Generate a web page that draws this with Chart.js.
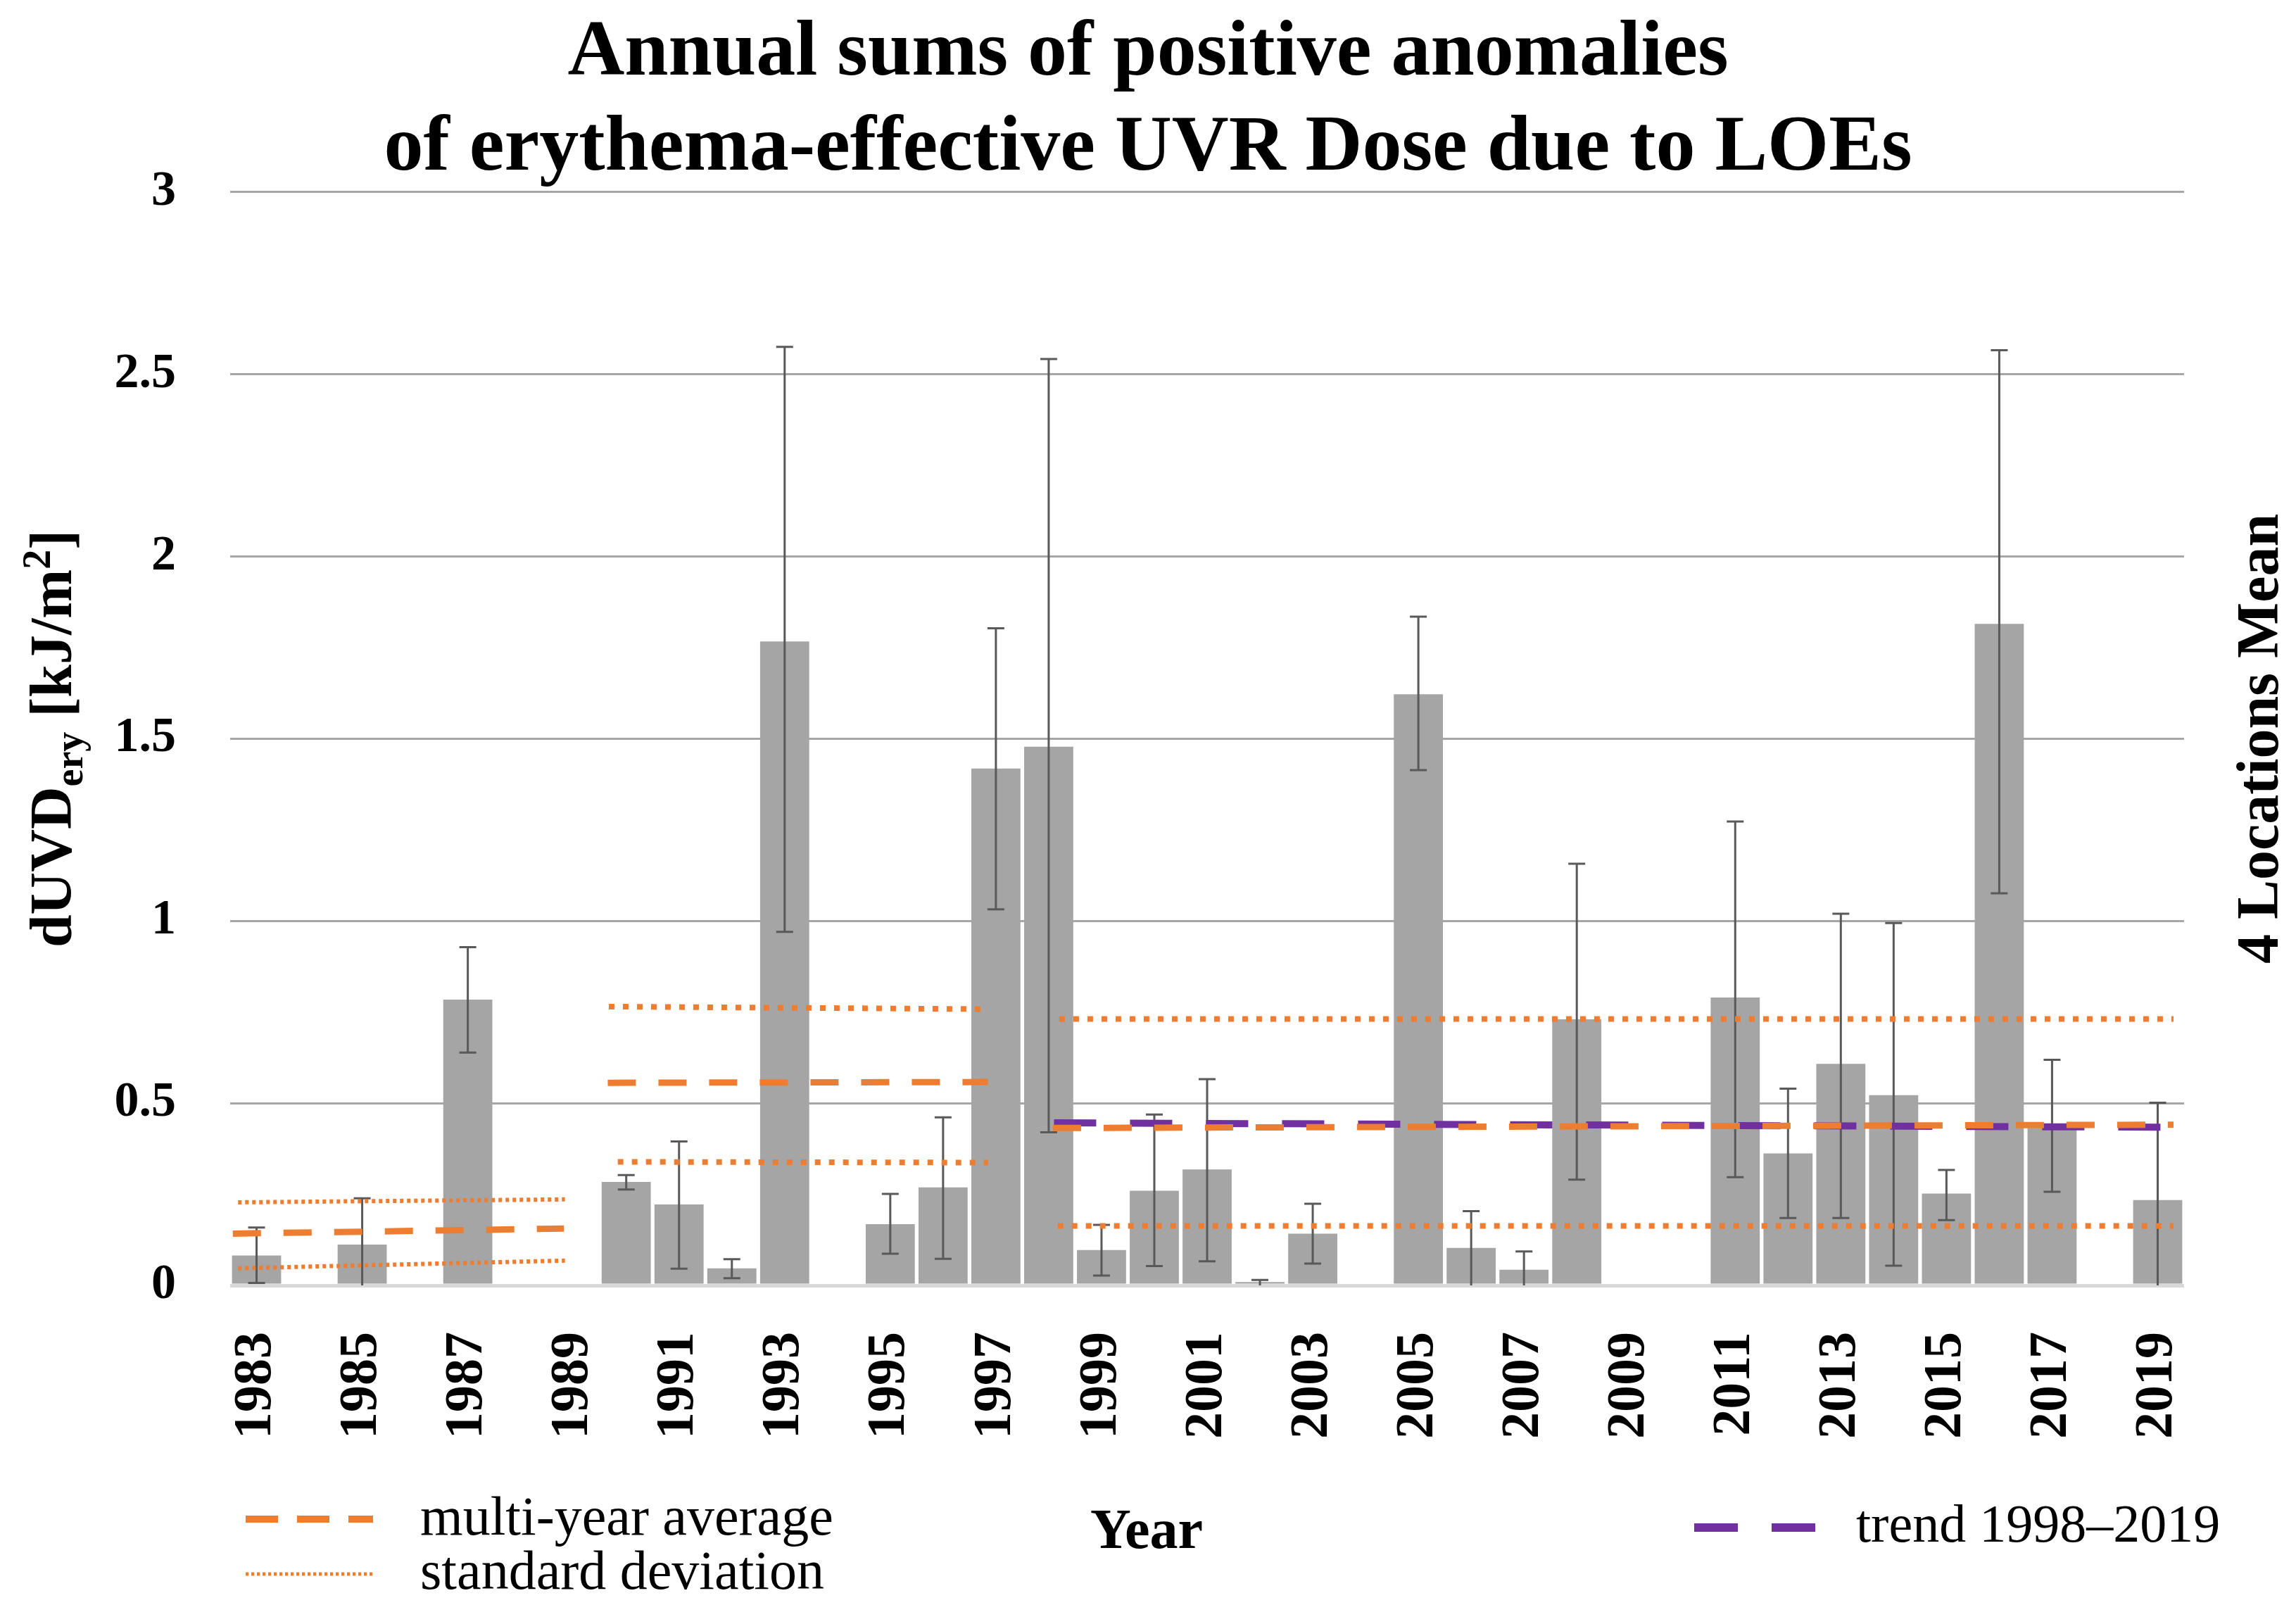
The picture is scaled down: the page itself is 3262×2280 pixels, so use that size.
<!DOCTYPE html>
<html>
<head>
<meta charset="utf-8">
<script src="https://cdn.jsdelivr.net/npm/chart.js@4.4.1/dist/chart.umd.min.js"></script>
<style>
  html, body { margin: 0; padding: 0; background: #fff; }
  #uvChart { display: block; }
</style>
</head>
<body>
<canvas id="uvChart" width="3262" height="2280"></canvas>
<script>
// years on the category axis
const years = ['1983','1984','1985','1986','1987','1988','1989','1990','1991','1992',
  '1993','1994','1995','1996','1997','1998','1999','2000','2001','2002','2003','2004',
  '2005','2006','2007','2008','2009','2010','2011','2012','2013','2014','2015','2016',
  '2017','2018','2019'];
// only every second year gets a label
const tickYears = ['1983','1985','1987','1989','1991','1993','1995','1997','1999','2001',
  '2003','2005','2007','2009','2011','2013','2015','2017','2019'];

// 4 locations mean of dUVD_ery [kJ/m2]
const doseMean = [0.082, null, 0.112, null, 0.784, null, null, 0.284, 0.222, 0.047,
  1.767, null, 0.168, 0.269, 1.418, 1.478, 0.097, 0.260, 0.318, 0.009, 0.142, null,
  1.622, 0.103, 0.043, 0.730, null, null, 0.790, 0.362, 0.608, 0.522, 0.252, 1.815,
  0.432, null, 0.234];
const errLow = [0.007, null, 0, null, 0.639, null, null, 0.263, 0.046, 0.020,
  0.970, null, 0.087, 0.073, 1.032, 0.420, 0.027, 0.053, 0.066, 0, 0.060, null,
  1.414, 0, 0, 0.290, null, null, 0.297, 0.185, 0.185, 0.054, 0.179, 1.076,
  0.257, null, 0];
const errHigh = [0.159, null, 0.239, null, 0.928, null, null, 0.303, 0.395, 0.072,
  2.575, null, 0.251, 0.461, 1.803, 2.542, 0.166, 0.469, 0.566, 0.015, 0.224, null,
  1.835, 0.204, 0.093, 1.157, null, null, 1.273, 0.540, 1.020, 0.994, 0.317, 2.566,
  0.619, null, 0.501];

// multi-year averages and +/- std deviation, per period (start / end)
const avgPeriod1 = [{x: 1982.55, y: 0.142}, {x: 1988.82, y: 0.156}];
const avgPeriod2 = [{x: 1989.65, y: 0.556}, {x: 1996.85, y: 0.558}];
const avgPeriod3 = [{x: 1998.08, y: 0.432}, {x: 2019.3, y: 0.441}];
const sdHigh1 = [{x: 1982.65, y: 0.228}, {x: 1988.84, y: 0.236}];
const sdHigh2 = [{x: 1989.67, y: 0.765}, {x: 1996.85, y: 0.758}];
const sdHigh3 = [{x: 1998.2, y: 0.731}, {x: 2019.3, y: 0.731}];
const sdLow1 = [{x: 1982.65, y: 0.047}, {x: 1988.84, y: 0.068}];
const sdLow2 = [{x: 1989.84, y: 0.339}, {x: 1996.85, y: 0.337}];
const sdLow3 = [{x: 1998.17, y: 0.163}, {x: 2019.3, y: 0.163}];
const trend = [{x: 1998.1, y: 0.446}, {x: 2019.07, y: 0.434}];

const SERIF = '"Liberation Serif", "DejaVu Serif", serif';
const ORANGE = '#ED7D31';
const PURPLE = '#7030A0';

function seg(data, dash, width, color, order) {
  return {
    type: 'line', xAxisID: 'xl', data: data,
    borderColor: color, borderWidth: width, borderDash: dash,
    pointRadius: 0, fill: false, order: order, borderCapStyle: 'butt'
  };
}

// whiskers on top of the bars
const errorBars = {
  id: 'errorBars',
  afterDatasetDraw(chart, args) {
    if (args.index !== 0) return;
    const ctx = chart.ctx;
    const y = chart.scales.y;
    ctx.save();
    ctx.strokeStyle = '#595959';
    ctx.lineWidth = 3;
    args.meta.data.forEach((bar, i) => {
      if (errHigh[i] == null) return;
      const top = y.getPixelForValue(errHigh[i]);
      const bot = y.getPixelForValue(errLow[i]);
      ctx.beginPath();
      ctx.moveTo(bar.x, top); ctx.lineTo(bar.x, bot);
      ctx.moveTo(bar.x - 12, top); ctx.lineTo(bar.x + 12, top);
      if (errLow[i] > 0) { ctx.moveTo(bar.x - 12, bot); ctx.lineTo(bar.x + 12, bot); }
      ctx.stroke();
    });
    ctx.restore();
  }
};

// axis titles and the legend under the chart
const extraText = {
  id: 'extraText',
  afterDraw(chart) {
    const ctx = chart.ctx;
    const area = chart.chartArea;
    const midY = (area.top + area.bottom) / 2;
    ctx.save();
    ctx.fillStyle = '#000';
    ctx.textBaseline = 'alphabetic';

    // y title with sub- and superscript
    const big = 'bold 84px ' + SERIF, small = 'bold 56px ' + SERIF;
    const parts = [['dUVD', big, 0], ['ery', small, 16], [' [kJ/m', big, 0], ['2', small, -30], [']', big, 0]];
    let total = 0;
    parts.forEach(p => { ctx.font = p[1]; total += ctx.measureText(p[0]).width; });
    ctx.save();
    ctx.translate(73, midY);
    ctx.rotate(-Math.PI / 2);
    let cx = -total / 2;
    parts.forEach(p => {
      ctx.font = p[1];
      ctx.textAlign = 'left';
      ctx.fillText(p[0], cx, 28 + p[2]);
      cx += ctx.measureText(p[0]).width;
    });
    ctx.restore();

    // right side label
    ctx.save();
    ctx.translate(3214, midY);
    ctx.rotate(-Math.PI / 2);
    ctx.font = 'bold 84px ' + SERIF;
    ctx.textAlign = 'center';
    ctx.textBaseline = 'middle';
    ctx.fillText('4 Locations Mean', 0, 0);
    ctx.restore();

    // x title
    ctx.font = 'bold 80px ' + SERIF;
    ctx.textAlign = 'center';
    ctx.textBaseline = 'middle';
    ctx.fillText('Year', 1629, 2178);

    // legend
    ctx.lineCap = 'butt';
    ctx.strokeStyle = ORANGE;
    ctx.lineWidth = 10;
    ctx.setLineDash([46, 27]);
    ctx.beginPath(); ctx.moveTo(349, 2158); ctx.lineTo(530, 2158); ctx.stroke();
    ctx.lineWidth = 5;
    ctx.setLineDash([4, 4]);
    ctx.beginPath(); ctx.moveTo(349, 2236); ctx.lineTo(530, 2236); ctx.stroke();
    ctx.strokeStyle = PURPLE;
    ctx.lineWidth = 12;
    ctx.setLineDash([62, 48]);
    ctx.beginPath(); ctx.moveTo(2407, 2170); ctx.lineTo(2579, 2170); ctx.stroke();
    ctx.setLineDash([]);

    ctx.font = '78px ' + SERIF;
    ctx.textAlign = 'left';
    ctx.fillText('multi-year average', 597, 2160);
    ctx.fillText('standard deviation', 597, 2237);
    ctx.font = '76px ' + SERIF;
    ctx.fillText('trend 1998\u20132019', 2637, 2170);
    ctx.restore();
  }
};

new Chart(document.getElementById('uvChart'), {
  data: {
    labels: years,
    datasets: [
      {
        type: 'bar', label: '4 Locations Mean', data: doseMean,
        backgroundColor: '#A5A5A5', barPercentage: 0.93, categoryPercentage: 1,
        grouped: false, order: 10
      },
      seg(trend, [60, 48], 10, PURPLE, 5),
      seg(avgPeriod1, [40, 32], 9, ORANGE, 1),
      seg(avgPeriod2, [40, 32], 9, ORANGE, 1),
      seg(avgPeriod3, [40, 32], 9, ORANGE, 1),
      seg(sdHigh1, [5, 5], 6, ORANGE, 1),
      seg(sdHigh2, [8, 12], 8, ORANGE, 1),
      seg(sdHigh3, [8, 12], 8, ORANGE, 1),
      seg(sdLow1, [5, 5], 6, ORANGE, 1),
      seg(sdLow2, [8, 12], 8, ORANGE, 1),
      seg(sdLow3, [8, 12], 8, ORANGE, 1)
    ]
  },
  options: {
    responsive: false,
    animation: false,
    devicePixelRatio: 1,
    layout: { padding: 0 },
    plugins: {
      legend: { display: false },
      tooltip: { enabled: false },
      title: {
        display: true,
        text: ['Annual sums of positive anomalies', 'of erythema-effective UVR Dose due to LOEs'],
        color: '#000',
        font: { family: SERIF, size: 112, weight: 'bold', lineHeight: 1.2 },
        padding: { top: 10, bottom: -6 }
      }
    },
    scales: {
      x: {
        type: 'category',
        grid: { display: false, drawTicks: false },
        border: { display: false },
        ticks: {
          autoSkip: false, minRotation: 90, maxRotation: 90, padding: 66,
          color: '#000', font: { family: SERIF, size: 76, weight: 'bold' },
          callback: function (v, i) {
            const lab = this.getLabelForValue(v);
            return tickYears.includes(lab) ? lab : '';
          }
        },
        afterFit: s => { s.height = 454; }
      },
      xl: {
        type: 'linear', display: false, min: 1982.5, max: 2019.5
      },
      y: {
        min: 0, max: 3,
        grid: {
          drawTicks: false,
          color: c => c.tick.value === 0 ? '#D9D9D9' : '#A6A6A6',
          lineWidth: c => c.tick.value === 0 ? 5 : 3
        },
        border: { display: false },
        ticks: {
          stepSize: 0.5, padding: 77, color: '#000',
          font: { family: SERIF, size: 70, weight: 'bold' },
          callback: v => String(v)
        },
        afterFit: s => { s.width = 327; }
      },
      // empty right axis keeps room for the side label
      yr: {
        position: 'right', min: 0, max: 3,
        grid: { display: false, drawTicks: false },
        border: { display: false },
        ticks: { display: false },
        afterFit: s => { s.width = 159; }
      }
    }
  },
  plugins: [errorBars, extraText]
});
</script>
</body>
</html>
